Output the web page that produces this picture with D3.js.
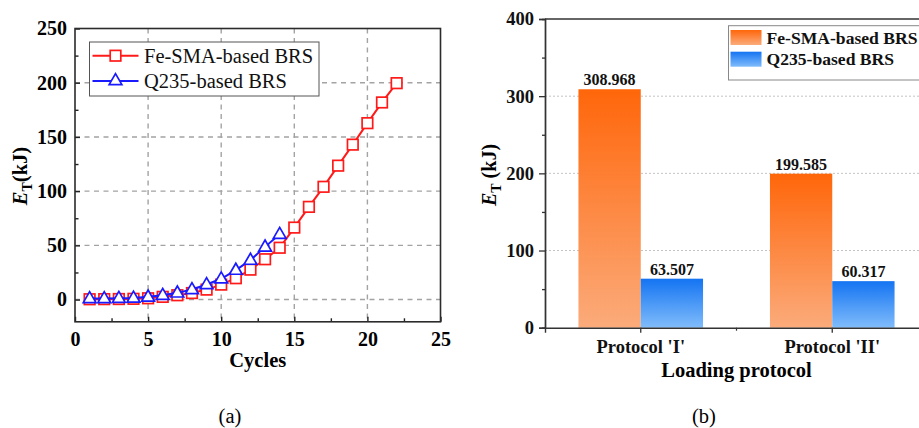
<!DOCTYPE html>
<html>
<head>
<meta charset="utf-8">
<script src="https://cdn.jsdelivr.net/npm/d3@7"></script>
<style>
  html, body { margin: 0; padding: 0; background: #fff; overflow: hidden; }
  svg { display: block; font-family: "Liberation Serif", "Times New Roman", serif; }
</style>
</head>
<body>
<svg id="chart" width="919" height="428"></svg>
<script>
// ---- (a) cumulative energy vs cycles ----
const cycles = [1,2,3,4,5,6,7,8,9,10,11,12,13,14,15,16,17,18,19,20,21,22];
const feSmaEnergy = [0.3,0.4,0.5,0.7,1.2,2.5,4,6,9.2,13.8,19.7,27.6,37.2,47.8,66.4,85.5,104,123.5,142.9,162.7,181.8,199.585];
const q235Cycles = [1,2,3,4,5,6,7,8,9,10,11,12,13,14];
const q235Energy = [1,1,1.2,1.5,2.5,4,6.2,9.3,13.9,19.2,27.2,36.4,48.6,60.317];
const lineTicksX = [0,5,10,15,20,25];
const lineTicksY = [0,50,100,150,200,250];

// ---- (b) total energy per loading protocol ----
const protocols = ["Protocol 'I'", "Protocol 'II'"];
const feSmaTotal = [308.968, 199.585];
const q235Total = [63.507, 60.317];
const barTicksY = [0,100,200,300,400];
const seriesNames = ["Fe-SMA-based BRS", "Q235-based BRS"];

const svg = d3.select("#chart");
const defs = svg.append("defs");

// ================= panel (a) =================
const A = { left: 75, right: 440.5, top: 28.5, bottom: 321.8 };
const xA = d3.scaleLinear().domain([0, 25]).range([A.left, A.right]);
const yA = d3.scaleLinear().domain([-20.5, 250]).range([A.bottom, A.top]);

const gA = svg.append("g");

// dashed grid
gA.append("g").selectAll("line").data([5,10,15,20]).join("line")
  .attr("x1", d => xA(d)).attr("x2", d => xA(d))
  .attr("y1", A.top).attr("y2", A.bottom)
  .attr("stroke", "#a3a3a3").attr("stroke-width", 1.4).attr("stroke-dasharray", "5,4.5");
gA.append("g").selectAll("line").data([0,50,100,150,200]).join("line")
  .attr("x1", A.left).attr("x2", A.right)
  .attr("y1", d => yA(d)).attr("y2", d => yA(d))
  .attr("stroke", "#a3a3a3").attr("stroke-width", 1.4).attr("stroke-dasharray", "5,4.5");

// axes with inward ticks
const axLeftA = gA.append("g").attr("transform", `translate(${A.left},0)`)
  .call(d3.axisLeft(yA).tickValues(lineTicksY).tickSize(-5).tickPadding(8));
const axMinorLeftA = gA.append("g").attr("transform", `translate(${A.left},0)`)
  .call(d3.axisLeft(yA).tickValues([-0.0001+25,75,125,175,225]).tickSize(-3.5).tickFormat(""));
const axBottomA = gA.append("g").attr("transform", `translate(0,${A.bottom})`)
  .call(d3.axisBottom(xA).tickValues(lineTicksX).tickSize(-5).tickPadding(10));
const axMinorBottomA = gA.append("g").attr("transform", `translate(0,${A.bottom})`)
  .call(d3.axisBottom(xA).tickValues([2.5,7.5,12.5,17.5,22.5]).tickSize(-3.5).tickFormat(""));

[axLeftA, axMinorLeftA, axBottomA, axMinorBottomA].forEach(ax => {
  ax.select(".domain").remove();
  ax.selectAll(".tick line").attr("stroke", "#222").attr("stroke-width", 1.4);
  ax.selectAll(".tick text").attr("fill", "#000").attr("font-family", "Liberation Serif")
    .attr("font-weight", "bold").attr("font-size", 20);
});

// frame
gA.append("rect").attr("x", A.left).attr("y", A.top)
  .attr("width", A.right - A.left).attr("height", A.bottom - A.top)
  .attr("fill", "none").attr("stroke", "#2b2b2b").attr("stroke-width", 1.6);

// lines and markers
const lineGen = d3.line().x(d => xA(d[0])).y(d => yA(d[1]));
const feData = cycles.map((c, i) => [c, feSmaEnergy[i]]);
const qData = q235Cycles.map((c, i) => [c, q235Energy[i]]);

gA.append("path").datum(feData).attr("d", lineGen)
  .attr("fill", "none").attr("stroke", "#ff1a1a").attr("stroke-width", 2);
gA.append("g").selectAll("rect").data(feData).join("rect")
  .attr("x", d => xA(d[0]) - 5.3).attr("y", d => yA(d[1]) - 5.3)
  .attr("width", 10.6).attr("height", 10.6)
  .attr("fill", "#fff").attr("stroke", "#ff1a1a").attr("stroke-width", 1.7);

gA.append("path").datum(qData).attr("d", lineGen)
  .attr("fill", "none").attr("stroke", "#1a1aff").attr("stroke-width", 2);
const tri = d3.symbol().type(d3.symbolTriangle).size(70);
gA.append("g").selectAll("path").data(qData).join("path")
  .attr("d", tri)
  .attr("transform", d => `translate(${xA(d[0])},${yA(d[1]) + 0.5})`)
  .attr("fill", "#fff").attr("stroke", "#1a1aff").attr("stroke-width", 1.7);

// legend
const legA = gA.append("g");
legA.append("rect").attr("x", 89.5).attr("y", 42).attr("width", 229.5).attr("height", 54)
  .attr("fill", "#fff").attr("stroke", "#555").attr("stroke-width", 1);
[[55.7, "#ff1a1a", "sq"], [81, "#1a1aff", "tri"]].forEach(([ly, col, kind], i) => {
  legA.append("line").attr("x1", 92.5).attr("x2", 138.5).attr("y1", ly).attr("y2", ly)
    .attr("stroke", col).attr("stroke-width", 2);
  if (kind === "sq") {
    legA.append("rect").attr("x", 115.5 - 5.3).attr("y", ly - 5.3).attr("width", 10.6).attr("height", 10.6)
      .attr("fill", "#fff").attr("stroke", col).attr("stroke-width", 1.7);
  } else {
    legA.append("path").attr("d", tri).attr("transform", `translate(115.5,${ly})`)
      .attr("fill", "#fff").attr("stroke", col).attr("stroke-width", 1.7);
  }
  legA.append("text").attr("x", 144).attr("y", ly + 7).attr("font-size", 20.5)
    .attr("fill", "#111").text(seriesNames[i]);
});

// axis titles
gA.append("text").attr("x", (A.left + A.right) / 2).attr("y", 367)
  .attr("text-anchor", "middle").attr("font-weight", "bold").attr("font-size", 20.5).text("Cycles");
const yTitleA = gA.append("text").attr("transform", "translate(27,176) rotate(-90)")
  .attr("text-anchor", "middle").attr("font-weight", "bold").attr("font-size", 20.5);
yTitleA.append("tspan").attr("font-style", "italic").text("E");
yTitleA.append("tspan").attr("font-size", 14).attr("dy", 5).text("T");
yTitleA.append("tspan").attr("dy", -5).text("(kJ)");

svg.append("text").attr("x", 230).attr("y", 423).attr("text-anchor", "middle")
  .attr("font-size", 20.5).text("(a)");

// ================= panel (b) =================
const B = { left: 545, right: 928, top: 19, bottom: 327.7 };
const xB = d3.scaleBand().domain(protocols).range([B.left, B.right]).padding(0);
const yB = d3.scaleLinear().domain([0, 400]).range([B.bottom, B.top]);
const barW = 62.3;

const gB = svg.append("g");

// gradients
const gradOrange = defs.append("linearGradient").attr("id", "gOrange")
  .attr("x1", 0).attr("y1", 0).attr("x2", 0).attr("y2", 1);
gradOrange.append("stop").attr("offset", "0%").attr("stop-color", "#ff660a");
gradOrange.append("stop").attr("offset", "100%").attr("stop-color", "#fbab7b");
const gradBlue = defs.append("linearGradient").attr("id", "gBlue")
  .attr("x1", 0).attr("y1", 0).attr("x2", 0).attr("y2", 1);
gradBlue.append("stop").attr("offset", "0%").attr("stop-color", "#1474f2");
gradBlue.append("stop").attr("offset", "100%").attr("stop-color", "#80bcfb");

// dotted grid
gB.append("g").selectAll("line").data([100,200,300]).join("line")
  .attr("x1", B.left).attr("x2", B.right)
  .attr("y1", d => yB(d)).attr("y2", d => yB(d))
  .attr("stroke", "#c4c4c4").attr("stroke-width", 1).attr("stroke-dasharray", "2,2");

// bars
const centers = protocols.map(p => xB(p) + xB.bandwidth() / 2);
gB.append("g").selectAll("rect").data(feSmaTotal).join("rect")
  .attr("x", (d, i) => centers[i] - barW).attr("y", d => yB(d))
  .attr("width", barW).attr("height", d => yB(0) - yB(d)).attr("fill", "url(#gOrange)");
gB.append("g").selectAll("rect").data(q235Total).join("rect")
  .attr("x", (d, i) => centers[i]).attr("y", d => yB(d))
  .attr("width", barW).attr("height", d => yB(0) - yB(d)).attr("fill", "url(#gBlue)");

// value labels
const lbl = (vals, off) => gB.append("g").selectAll("text").data(vals).join("text")
  .attr("x", (d, i) => centers[i] + off).attr("y", d => yB(d) - 4)
  .attr("text-anchor", "middle").attr("font-weight", "bold").attr("font-size", 16)
  .attr("fill", "#111").text(d => d3.format(".3f")(d));
lbl(feSmaTotal, -barW / 2);
lbl(q235Total, barW / 2);

// axes
const axLeftB = gB.append("g").attr("transform", `translate(${B.left},0)`)
  .call(d3.axisLeft(yB).tickValues(barTicksY).tickSize(6).tickPadding(5));
const axMinorLeftB = gB.append("g").attr("transform", `translate(${B.left},0)`)
  .call(d3.axisLeft(yB).tickValues([50,150,250,350]).tickSize(3).tickFormat(""));
const axBottomB = gB.append("g").attr("transform", `translate(0,${B.bottom})`)
  .call(d3.axisBottom(xB).tickSize(5).tickPadding(7));
[axLeftB, axMinorLeftB, axBottomB].forEach(ax => {
  ax.select(".domain").attr("stroke", "#333").attr("stroke-width", 1.4);
  ax.selectAll(".tick line").attr("stroke", "#333").attr("stroke-width", 1.3);
  ax.selectAll(".tick text").attr("fill", "#111").attr("font-family", "Liberation Serif")
    .attr("font-weight", "bold").attr("font-size", 18.5);
});
// boundary tick between the two groups
gB.append("line").attr("x1", xB(protocols[1])).attr("x2", xB(protocols[1]))
  .attr("y1", B.bottom).attr("y2", B.bottom + 3).attr("stroke", "#333").attr("stroke-width", 1.2);
// top border
gB.append("line").attr("x1", B.left).attr("x2", B.right).attr("y1", B.top).attr("y2", B.top)
  .attr("stroke", "#333").attr("stroke-width", 1.4);

// legend
const legB = gB.append("g");
legB.append("rect").attr("x", 728.5).attr("y", 25.7).attr("width", 200).attr("height", 54.3)
  .attr("fill", "#fff").attr("stroke", "#888").attr("stroke-width", 1);
["url(#gOrange)", "url(#gBlue)"].forEach((f, i) => {
  const sy = 30 + i * 21.7;
  legB.append("rect").attr("x", 730.5).attr("y", sy).attr("width", 31).attr("height", 15).attr("fill", f);
  legB.append("text").attr("x", 766.5).attr("y", sy + 13.5).attr("font-weight", "bold")
    .attr("font-size", 17.6).attr("fill", "#111").text(seriesNames[i]);
});

// axis titles
gB.append("text").attr("x", 736.5).attr("y", 377).attr("text-anchor", "middle")
  .attr("font-weight", "bold").attr("font-size", 20.5).text("Loading protocol");
const yTitleB = gB.append("text").attr("transform", "translate(496,175) rotate(-90)")
  .attr("text-anchor", "middle").attr("font-weight", "bold").attr("font-size", 20);
yTitleB.append("tspan").attr("font-style", "italic").text("E");
yTitleB.append("tspan").attr("font-size", 14).attr("dy", 5).text("T");
yTitleB.append("tspan").attr("dy", -5).text(" (kJ)");

svg.append("text").attr("x", 704).attr("y", 423).attr("text-anchor", "middle")
  .attr("font-size", 20.5).text("(b)");
</script>
</body>
</html>
